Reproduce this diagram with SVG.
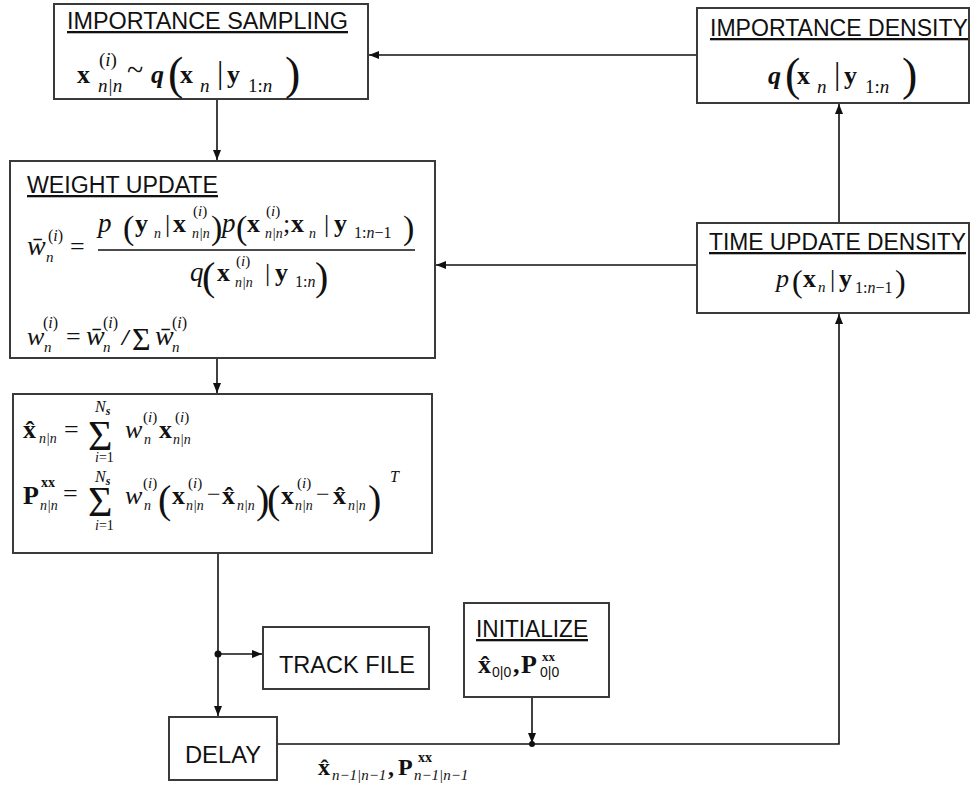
<svg xmlns="http://www.w3.org/2000/svg" width="972" height="786" viewBox="0 0 972 786">
<style>
  .box{fill:#fff;stroke:#3a3a3a;stroke-width:2}
  .h{font-family:"Liberation Sans",Arial,sans-serif;font-size:23px;text-decoration:underline;fill:#111}
  .t{font-family:"Liberation Sans",Arial,sans-serif;font-size:23px;fill:#111}
  .m{font-family:"Liberation Serif","Times New Roman",serif;font-size:26px;fill:#111}
  .b{font-weight:bold}
  .i{font-style:italic}
  .sf{font-family:"Liberation Sans",Arial,sans-serif}
  .ln{fill:none;stroke:#111;stroke-width:1.6}
</style>
<defs>
  <marker id="arr" viewBox="0 0 10 10" refX="10" refY="5" markerWidth="10" markerHeight="10" markerUnits="userSpaceOnUse" orient="auto">
    <path d="M0,1 L10,5 L0,9 z" fill="#111"/>
  </marker>
</defs>
<rect width="972" height="786" fill="#fff"/>

<g id="connectors">
  <line class="ln" x1="697" y1="55" x2="369" y2="55" marker-end="url(#arr)"/>
  <line class="ln" x1="217" y1="99" x2="217" y2="160" marker-end="url(#arr)"/>
  <line class="ln" x1="697" y1="265" x2="436" y2="265" marker-end="url(#arr)"/>
  <line class="ln" x1="839" y1="223" x2="839" y2="104" marker-end="url(#arr)"/>
  <line class="ln" x1="217" y1="358" x2="217" y2="393" marker-end="url(#arr)"/>
  <line class="ln" x1="218" y1="553" x2="218" y2="716" marker-end="url(#arr)"/>
  <line class="ln" x1="218" y1="654" x2="262" y2="654" marker-end="url(#arr)"/>
  <circle cx="218" cy="654" r="3.5" fill="#111"/>
  <polyline class="ln" points="277,744 839,744 839,314" marker-end="url(#arr)"/>
  <line class="ln" x1="532" y1="697" x2="532" y2="743" marker-end="url(#arr)"/>
  <circle cx="532" cy="744" r="3" fill="#111"/>
  <text class="m" y="775">
    <tspan class="b" x="318" font-size="24">x&#x0302;</tspan>
    <tspan class="i" x="332" y="780" font-size="15">n−1|n−1</tspan>
    <tspan class="b" x="388" y="775" font-size="24">,</tspan>
    <tspan class="b" x="398" y="775" font-size="24">P</tspan>
    <tspan class="b" x="418" y="762" font-size="14">xx</tspan>
    <tspan class="i" x="414" y="780" font-size="15">n−1|n−1</tspan>
  </text>
</g>

<g id="importance-sampling">
  <rect class="box" x="54" y="4" width="314" height="95"/>
  <text class="h" x="67" y="29" textLength="281" lengthAdjust="spacingAndGlyphs">IMPORTANCE SAMPLING</text>
  <text class="m" font-size="37">
    <tspan class="b" x="77" y="83">x</tspan>
    <tspan x="99" y="66" font-size="19">(</tspan><tspan class="i" font-size="19">i</tspan><tspan font-size="19">)</tspan>
    <tspan class="i" x="98" y="92" font-size="19">n|n</tspan>
    <tspan x="127" y="80" font-size="30">~</tspan>
    <tspan class="b i" x="151" y="83">q</tspan>
    <tspan x="168" y="89" font-size="46">(</tspan>
    <tspan class="b" x="180" y="83">x</tspan>
    <tspan class="i" x="200" y="92" font-size="19">n</tspan>
    <tspan x="217" y="83" font-size="32">|</tspan>
    <tspan class="b" x="227" y="83">y</tspan>
    <tspan x="248" y="92" font-size="19">1:</tspan><tspan class="i" font-size="19">n</tspan>
    <tspan x="285" y="89" font-size="46">)</tspan>
  </text>
</g>

<g id="importance-density">
  <rect class="box" x="697" y="8" width="272" height="95"/>
  <text class="h" x="710" y="36" textLength="258" lengthAdjust="spacingAndGlyphs">IMPORTANCE DENSITY</text>
  <text class="m" font-size="37">
    <tspan class="b i" x="768" y="84">q</tspan>
    <tspan x="785" y="90" font-size="46">(</tspan>
    <tspan class="b" x="797" y="84">x</tspan>
    <tspan class="i" x="817" y="93" font-size="19">n</tspan>
    <tspan x="834" y="84" font-size="32">|</tspan>
    <tspan class="b" x="844" y="84">y</tspan>
    <tspan x="865" y="93" font-size="19">1:</tspan><tspan class="i" font-size="19">n</tspan>
    <tspan x="902" y="90" font-size="46">)</tspan>
  </text>
</g>

<g id="weight-update">
  <rect class="box" x="10" y="161" width="425" height="197"/>
  <text class="h" x="27" y="193" textLength="191" lengthAdjust="spacingAndGlyphs">WEIGHT UPDATE</text>
  <text class="m">
    <tspan class="i" x="27" y="255" font-size="28">w&#x0304;</tspan>
    <tspan x="48" y="241" font-size="16">(</tspan><tspan class="i" font-size="16">i</tspan><tspan font-size="16">)</tspan>
    <tspan class="i" x="46" y="262" font-size="15">n</tspan>
    <tspan x="70" y="255">=</tspan>
  </text>
  <text class="m" font-size="25">
    <tspan class="i" x="98" y="232" font-size="27">p</tspan>
    <tspan x="123" y="239" font-size="34">(</tspan>
    <tspan class="b" x="135" y="232">y</tspan>
    <tspan class="i" x="154" y="238" font-size="14">n</tspan>
    <tspan x="165" y="232">|</tspan>
    <tspan class="b" x="173" y="232">x</tspan>
    <tspan x="193" y="216" font-size="15">(</tspan><tspan class="i" font-size="15">i</tspan><tspan font-size="15">)</tspan>
    <tspan class="i" x="192" y="238" font-size="14">n|n</tspan>
    <tspan x="211" y="239" font-size="34">)</tspan>
    <tspan class="i" x="222" y="232" font-size="27">p</tspan>
    <tspan x="236" y="239" font-size="34">(</tspan>
    <tspan class="b" x="247" y="232">x</tspan>
    <tspan x="266" y="216" font-size="15">(</tspan><tspan class="i" font-size="15">i</tspan><tspan font-size="15">)</tspan>
    <tspan class="i" x="265" y="238" font-size="14">n|n</tspan>
    <tspan x="283" y="232">;</tspan>
    <tspan class="b" x="291" y="232">x</tspan>
    <tspan class="i" x="309" y="238" font-size="14">n</tspan>
    <tspan x="324" y="232">|</tspan>
    <tspan class="b" x="334" y="232">y</tspan>
    <tspan x="354" y="238" font-size="16">1:</tspan><tspan class="i" font-size="16">n</tspan><tspan font-size="16">−1</tspan>
    <tspan x="403" y="239" font-size="34">)</tspan>
  </text>
  <line x1="98" y1="250" x2="415" y2="250" stroke="#111" stroke-width="1.4"/>
  <text class="m" font-size="25">
    <tspan class="i" x="190" y="281" font-size="27">q</tspan>
    <tspan x="202" y="290" font-size="40">(</tspan>
    <tspan class="b" x="217" y="281">x</tspan>
    <tspan x="236" y="266" font-size="15">(</tspan><tspan class="i" font-size="15">i</tspan><tspan font-size="15">)</tspan>
    <tspan class="i" x="235" y="287" font-size="14">n|n</tspan>
    <tspan x="265" y="281">|</tspan>
    <tspan class="b" x="275" y="281">y</tspan>
    <tspan x="295" y="287" font-size="16">1:</tspan><tspan class="i" font-size="16">n</tspan>
    <tspan x="315" y="290" font-size="40">)</tspan>
  </text>
  <text class="m">
    <tspan class="i" x="27" y="345">w</tspan>
    <tspan x="43" y="328" font-size="16">(</tspan><tspan class="i" font-size="16">i</tspan><tspan font-size="16">)</tspan>
    <tspan class="i" x="44" y="352" font-size="15">n</tspan>
    <tspan x="66" y="345">=</tspan>
    <tspan class="i" x="86" y="345" font-size="28">w&#x0304;</tspan>
    <tspan x="103" y="328" font-size="16">(</tspan><tspan class="i" font-size="16">i</tspan><tspan font-size="16">)</tspan>
    <tspan class="i" x="103" y="352" font-size="15">n</tspan>
    <tspan class="b i" x="122" y="345" font-size="24">/</tspan>
    <tspan x="132" y="350" font-size="32">Σ</tspan>
    <tspan class="i" x="155" y="345" font-size="28">w&#x0304;</tspan>
    <tspan x="172" y="328" font-size="16">(</tspan><tspan class="i" font-size="16">i</tspan><tspan font-size="16">)</tspan>
    <tspan class="i" x="172" y="352" font-size="15">n</tspan>
  </text>
</g>

<g id="time-update-density">
  <rect class="box" x="697" y="223" width="272" height="90"/>
  <text class="h" x="709" y="250" textLength="257" lengthAdjust="spacingAndGlyphs">TIME UPDATE DENSITY</text>
  <text class="m">
    <tspan class="i" x="776" y="287">p</tspan>
    <tspan x="792" y="292" font-size="32">(</tspan>
    <tspan class="b" x="803" y="287">x</tspan>
    <tspan class="i" x="818" y="292" font-size="15">n</tspan>
    <tspan x="830" y="287">|</tspan>
    <tspan class="b" x="839" y="287">y</tspan>
    <tspan x="855" y="293" font-size="16">1:</tspan><tspan class="i" font-size="16">n</tspan><tspan font-size="16">−1</tspan>
    <tspan x="895" y="292" font-size="32">)</tspan>
  </text>
</g>

<g id="estimate">
  <rect class="box" x="13" y="394" width="419" height="159"/>
  <text class="m">
    <tspan class="b" x="23" y="438">x&#x0302;</tspan>
    <tspan class="i" x="39" y="443" font-size="14">n|n</tspan>
    <tspan x="64" y="438">=</tspan>
    <tspan x="88" y="450" font-size="42">Σ</tspan>
    <tspan class="i" x="95" y="412" font-size="16">N</tspan><tspan class="b i" font-size="12" dy="3">s</tspan>
    <tspan class="i" x="95" y="462" font-size="14">i</tspan><tspan font-size="14">=1</tspan>
    <tspan class="i" x="125" y="438">w</tspan>
    <tspan x="143" y="422" font-size="15">(</tspan><tspan class="i" font-size="15">i</tspan><tspan font-size="15">)</tspan>
    <tspan class="i" x="144" y="444" font-size="14">n</tspan>
    <tspan class="b" x="159" y="438">x</tspan>
    <tspan x="175" y="422" font-size="15">(</tspan><tspan class="i" font-size="15">i</tspan><tspan font-size="15">)</tspan>
    <tspan class="i" x="173" y="444" font-size="14">n|n</tspan>
  </text>
  <text class="m">
    <tspan class="b" x="23" y="504">P</tspan>
    <tspan class="b" x="41" y="487" font-size="14">xx</tspan>
    <tspan class="i" x="40" y="510" font-size="14">n|n</tspan>
    <tspan x="63" y="502">=</tspan>
    <tspan x="88" y="516" font-size="42">Σ</tspan>
    <tspan class="i" x="95" y="482" font-size="16">N</tspan><tspan class="b i" font-size="12" dy="3">s</tspan>
    <tspan class="i" x="95" y="530" font-size="14">i</tspan><tspan font-size="14">=1</tspan>
    <tspan class="i" x="125" y="504">w</tspan>
    <tspan x="143" y="488" font-size="15">(</tspan><tspan class="i" font-size="15">i</tspan><tspan font-size="15">)</tspan>
    <tspan class="i" x="144" y="510" font-size="14">n</tspan>
    <tspan x="158" y="513" font-size="40">(</tspan>
    <tspan class="b" x="172" y="504">x</tspan>
    <tspan x="188" y="488" font-size="15">(</tspan><tspan class="i" font-size="15">i</tspan><tspan font-size="15">)</tspan>
    <tspan class="i" x="186" y="510" font-size="14">n|n</tspan>
    <tspan x="207" y="502" font-size="24">−</tspan>
    <tspan class="b" x="222" y="504">x&#x0302;</tspan>
    <tspan class="i" x="237" y="510" font-size="14">n|n</tspan>
    <tspan x="256" y="513" font-size="40">)</tspan>
    <tspan x="267" y="513" font-size="40">(</tspan>
    <tspan class="b" x="281" y="504">x</tspan>
    <tspan x="297" y="488" font-size="15">(</tspan><tspan class="i" font-size="15">i</tspan><tspan font-size="15">)</tspan>
    <tspan class="i" x="295" y="510" font-size="14">n|n</tspan>
    <tspan x="316" y="502" font-size="24">−</tspan>
    <tspan class="b" x="333" y="504">x&#x0302;</tspan>
    <tspan class="i" x="348" y="510" font-size="14">n|n</tspan>
    <tspan x="368" y="513" font-size="40">)</tspan>
    <tspan class="i" x="390" y="482" font-size="16">T</tspan>
  </text>
</g>

<g id="track-file">
  <rect class="box" x="263" y="627" width="166" height="62"/>
  <text class="t" x="279" y="673" textLength="136" lengthAdjust="spacingAndGlyphs">TRACK FILE</text>
</g>

<g id="delay">
  <rect class="box" x="169" y="717" width="108" height="63"/>
  <text class="t" x="185" y="763" textLength="76" lengthAdjust="spacingAndGlyphs">DELAY</text>
</g>

<g id="initialize">
  <rect class="box" x="464" y="603" width="145" height="94"/>
  <text class="h" x="476" y="637" textLength="112" lengthAdjust="spacingAndGlyphs">INITIALIZE</text>
  <text class="m" font-size="24">
    <tspan class="b" x="478" y="673">x&#x0302;</tspan>
    <tspan class="sf" x="492" y="677" font-size="14">0|0</tspan>
    <tspan class="b" x="513" y="673">,</tspan>
    <tspan class="b" x="521" y="673">P</tspan>
    <tspan class="b" x="542" y="661" font-size="13">xx</tspan>
    <tspan class="sf" x="540" y="677" font-size="14">0|0</tspan>
  </text>
</g>
</svg>
